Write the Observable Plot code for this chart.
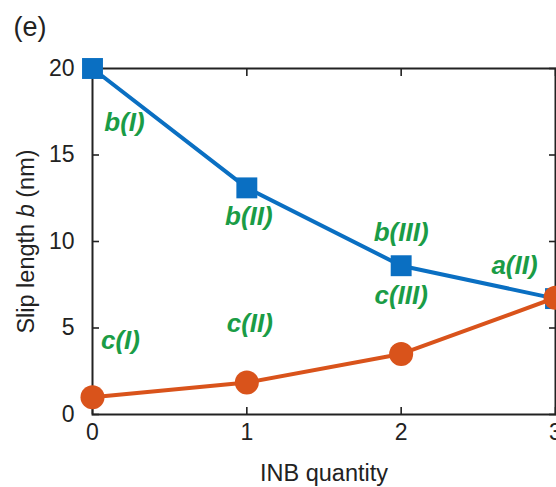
<!DOCTYPE html>
<html>
<head>
<meta charset="utf-8">
<script src="https://cdn.jsdelivr.net/npm/d3@7"></script>
<script src="https://cdn.jsdelivr.net/npm/@observablehq/plot@0.6"></script>
<style>
  html, body { margin: 0; padding: 0; background: #fff; }
  #chart { width: 556px; height: 487px; overflow: hidden; }
</style>
</head>
<body>
<div id="chart"></div>
<script>
// INB quantity on the x axis
const quantity = [0, 1, 2, 3];
// Slip length b (nm) for the two series
const slipSquares = [20, 13.1, 8.6, 6.7];
const slipCircles = [1.0, 1.85, 3.5, 6.75];
// Sample annotations next to each point
const squareLabels = ["b(I)", "b(II)", "b(III)", "a(II)"];
const circleLabels = ["c(I)", "c(II)", "c(III)", null];
const xTicks = [0, 1, 2, 3];
const yTicks = [0, 5, 10, 15, 20];

const squares = quantity.map((q, i) => ({q, b: slipSquares[i], label: squareLabels[i]}));
const circles = quantity.map((q, i) => ({q, b: slipCircles[i], label: circleLabels[i]}));

const blue = "#0a6fc2";
const orange = "#d9531b";
const green = "#1a9c46";
const ink = "#222";
const font = "'Liberation Sans', Arial, sans-serif";

// per-label offsets (px) from its point
const squareOffsets = {"b(I)": [32, 54], "b(II)": [2, 29], "b(III)": [0, -33], "a(II)": [-41, -33]};
const circleOffsets = {"c(I)": [28, -57], "c(II)": [3, -59], "c(III)": [0, -58]};

function labelMarks(data, offsets) {
  return data.filter(d => d.label).map(d => Plot.text([d], {
    x: "q", y: "b", text: "label",
    dx: offsets[d.label][0], dy: offsets[d.label][1],
    fill: green, fontSize: 26, fontWeight: "bold", fontStyle: "italic"
  }));
}

const chart = Plot.plot({
  width: 556,
  height: 487,
  marginLeft: 92,
  marginRight: 1,
  marginTop: 68,
  marginBottom: 73,
  style: {fontFamily: font, fontSize: "23px", background: "#fff", overflow: "hidden"},
  x: {domain: [0, 3]},
  y: {domain: [0, 20]},
  marks: [
    // tick labels
    Plot.axisY(yTicks, {anchor: "left", tickSize: 0, tickPadding: 18, tickFormat: d => String(d), fontSize: 23, fill: ink, label: null}),
    Plot.axisX(xTicks, {anchor: "bottom", tickSize: 0, tickPadding: 9, tickFormat: d => String(d), fontSize: 23, fill: ink, label: null}),
    // inward tick marks on all four sides
    Plot.axisY(yTicks, {anchor: "left", tickSize: -7, text: null, label: null, stroke: ink, strokeWidth: 1.6}),
    Plot.axisY(yTicks, {anchor: "right", tickSize: -7, text: null, label: null, stroke: ink, strokeWidth: 1.6}),
    Plot.axisX(xTicks, {anchor: "bottom", tickSize: -7, text: null, label: null, stroke: ink, strokeWidth: 1.6}),
    Plot.axisX(xTicks, {anchor: "top", tickSize: -7, text: null, label: null, stroke: ink, strokeWidth: 1.6}),
    Plot.frame({stroke: ink, strokeWidth: 2}),
    // series
    Plot.line(squares, {x: "q", y: "b", stroke: blue, strokeWidth: 4}),
    Plot.line(circles, {x: "q", y: "b", stroke: orange, strokeWidth: 4}),
    Plot.dot(squares, {x: "q", y: "b", symbol: "square", r: 11.8, fill: blue, stroke: "none"}),
    Plot.dot(circles, {x: "q", y: "b", symbol: "circle", r: 12, fill: orange, stroke: "none"}),
    ...labelMarks(squares, squareOffsets),
    ...labelMarks(circles, circleOffsets),
    // axis titles and panel tag
    Plot.text(["INB quantity"], {frameAnchor: "bottom", lineAnchor: "middle", dy: 59, fontSize: 23.5, fill: ink}),
    Plot.text(["Slip length b (nm)"], {x: () => 0, y: () => 10, lineAnchor: "middle", dx: -66, rotate: -90, fontSize: 23.5, fill: ink, className: "ylabel"}),
    Plot.text(["(e)"], {frameAnchor: "top-left", lineAnchor: "middle", dx: -79, dy: -41, textAnchor: "start", fontSize: 27, fill: ink})
  ]
});

document.getElementById("chart").appendChild(chart);

// italic "b" in the y-axis title
d3.select(chart).selectAll("g.ylabel text").each(function () {
  const t = d3.select(this);
  t.text(null);
  t.append("tspan").text("Slip length ");
  t.append("tspan").attr("font-style", "italic").text("b");
  t.append("tspan").text(" (nm)");
});
</script>
</body>
</html>
